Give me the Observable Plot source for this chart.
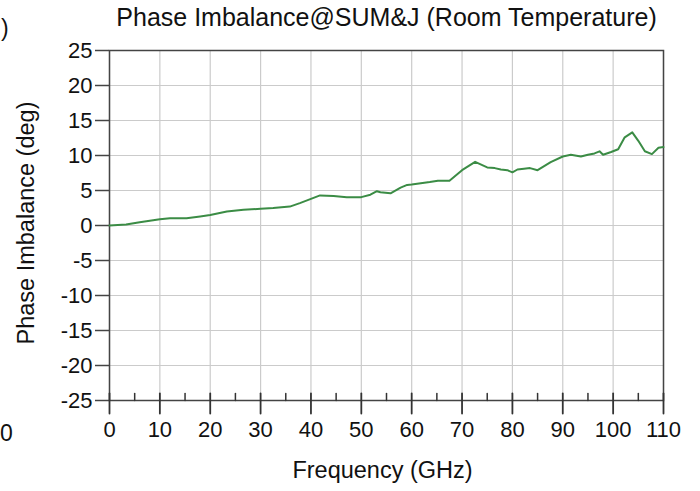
<!DOCTYPE html>
<html>
<head>
<meta charset="utf-8">
<script src="https://cdn.jsdelivr.net/npm/d3@7"></script>
<script src="https://cdn.jsdelivr.net/npm/@observablehq/plot@0.6"></script>
<style>
  html, body { margin: 0; padding: 0; background: #fff; }
  #wrap { position: relative; width: 700px; height: 491px; font-family: "Liberation Sans", Arial, sans-serif; color: #111; }
  #wrap svg { position: absolute; left: 0; top: 0; }
  .txt { position: absolute; white-space: nowrap; font-size: 21px; line-height: 1; }
</style>
</head>
<body>
<div id="wrap">
  <div class="txt" id="title" style="left:0; width:773px; text-align:center; top:5px; font-size:25px;"></div>
  <div class="txt" style="left:1px; top:17px; font-size:23px;">)</div>
  <div class="txt" style="left:0px; top:422px; font-size:23px;">0</div>
</div>
<script>
// Frequency (GHz) and phase imbalance (deg)
const freq = [0, 3.3, 6, 10, 12, 15.3, 18, 20, 23.3, 26.6, 30, 32.5, 35.8, 37.8, 40, 41.8, 44.5, 47.1, 50, 51.8, 53.1, 53.8, 55.8, 57.8, 59.1, 60, 63.6, 65.2, 67.5, 70, 72.6, 75, 76.5, 77.7, 79, 80, 81, 82.3, 83.5, 85, 87.6, 90, 91.6, 93.6, 95, 96.3, 97.3, 98, 99.6, 101, 102.3, 103.8, 105, 106.3, 107.7, 109, 110];
const phase = [0, 0.14, 0.48, 0.9, 1.05, 1.05, 1.3, 1.5, 2.0, 2.24, 2.4, 2.5, 2.7, 3.2, 3.8, 4.3, 4.2, 4.05, 4.05, 4.4, 4.9, 4.76, 4.6, 5.4, 5.8, 5.86, 6.2, 6.4, 6.4, 7.9, 9.1, 8.3, 8.2, 8.0, 7.9, 7.6, 8.0, 8.1, 8.2, 7.9, 9.05, 9.86, 10.1, 9.86, 10.1, 10.3, 10.6, 10.1, 10.5, 10.9, 12.6, 13.3, 12.1, 10.6, 10.2, 11.1, 11.2];
const xTicks = [0, 10, 20, 30, 40, 50, 60, 70, 80, 90, 100, 110];
const xMinor = [5, 15, 25, 35, 45, 55, 65, 75, 85, 95, 105];
const yTicks = [-25, -20, -15, -10, -5, 0, 5, 10, 15, 20, 25];
const title = "Phase Imbalance@SUM&J (Room Temperature)";
const xLabel = "Frequency (GHz)";
const yLabel = "Phase Imbalance (deg)";

const data = freq.map((f, i) => ({f, p: phase[i]}));
const font = "Liberation Sans, Arial, sans-serif";
const fmt = d => String(d); // plain hyphen-minus
const yMin = yTicks[0];
const tickShape = {draw(context, l) { context.moveTo(0, 0); context.lineTo(0, -l); }};

const chart = Plot.plot({
  width: 700,
  height: 491,
  marginLeft: 109,
  marginRight: 37,
  marginTop: 50,
  marginBottom: 91,
  style: {fontFamily: font, fontSize: "22px", color: "#111", background: "transparent"},
  x: {domain: [0, 110], axis: null},
  y: {domain: [-25, 25], axis: null},
  marks: [
    Plot.gridX(xTicks, {stroke: "#cbcbcb", strokeOpacity: 1, strokeWidth: 1.2}),
    Plot.gridY(yTicks, {stroke: "#cbcbcb", strokeOpacity: 1, strokeWidth: 1.2}),
    Plot.frame({stroke: "#444", strokeWidth: 1.5}),
    Plot.axisY(yTicks, {anchor: "left", tickSize: 14, tickPadding: 3, stroke: "#444", strokeWidth: 1.5, fontSize: 22, tickFormat: fmt, label: null}),
    Plot.vector(xTicks, {x: d => d, y: () => yMin, length: 20, rotate: 180, anchor: "start", dy: -7, shape: tickShape, stroke: "#333", strokeWidth: 1.8}),
    Plot.vector(xMinor, {x: d => d, y: () => yMin, length: 7, rotate: 180, anchor: "start", dy: -7, shape: tickShape, stroke: "#333", strokeWidth: 1.5}),
    Plot.axisX(xTicks, {anchor: "bottom", tickSize: 0, tickPadding: 21, fontSize: 22, tickFormat: fmt, label: null}),
    Plot.line(data, {x: "f", y: "p", stroke: "#3b8c45", strokeWidth: 2, curve: "linear"})
  ]
});
const wrap = document.getElementById("wrap");
wrap.insertBefore(chart, wrap.firstChild);
document.getElementById("title").textContent = title;

const xl = document.createElement("div");
xl.className = "txt";
xl.textContent = xLabel;
xl.style.cssText = "left:109px; width:547px; text-align:center; top:459px; font-size:23.5px;";
wrap.appendChild(xl);

const yl = document.createElement("div");
yl.className = "txt";
yl.textContent = yLabel;
yl.style.cssText = "left:27px; top:223px; font-size:23.5px; transform: translate(-50%, -50%) rotate(-90deg);";
wrap.appendChild(yl);
</script>
</body>
</html>
